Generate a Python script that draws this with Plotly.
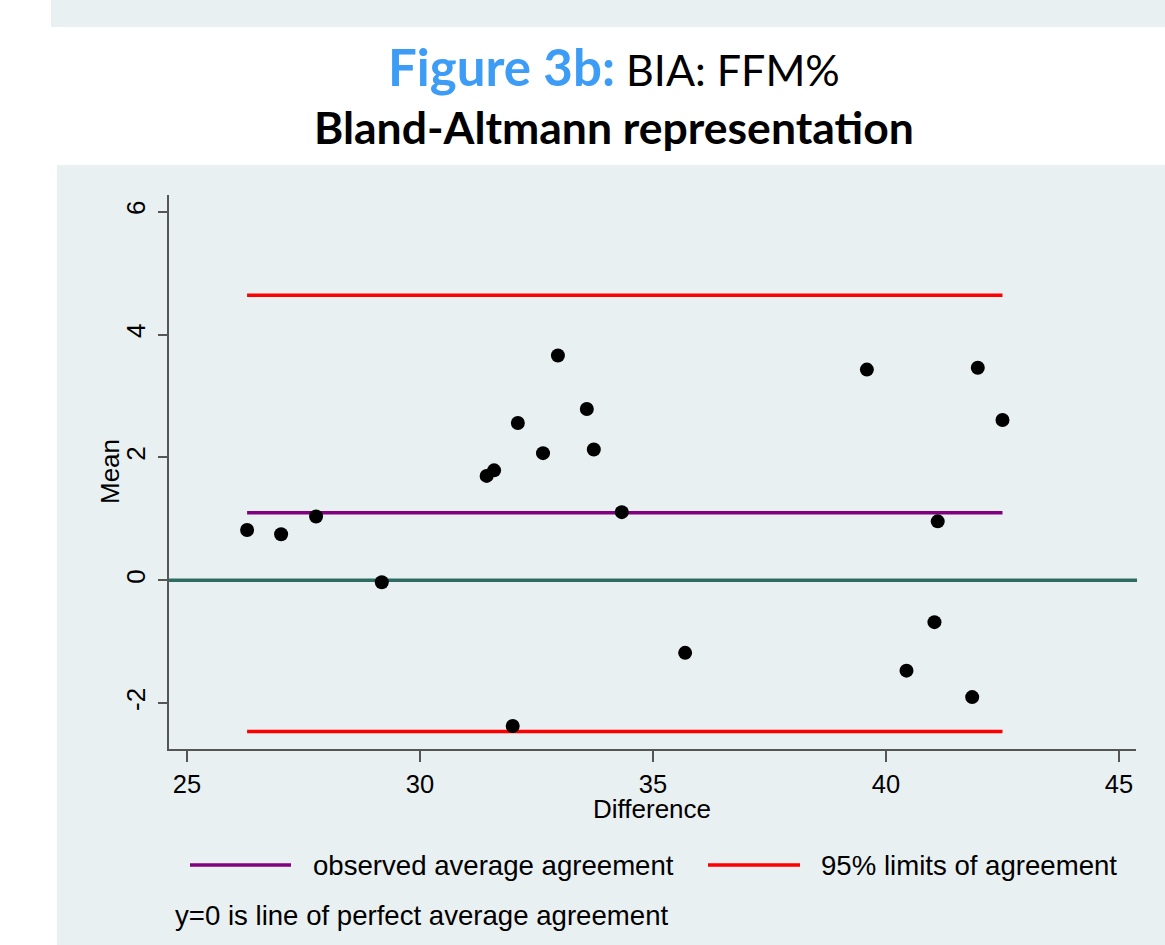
import plotly.graph_objects as go

# ---------------- data ----------------
diff_x = [26.29, 27.02, 27.77, 29.18, 31.43, 31.59, 32.10, 32.64, 32.96, 33.58,
          33.73, 34.33, 35.69, 31.99, 39.59, 41.97, 42.50, 41.11, 41.04, 40.44, 41.85]
mean_y = [0.82, 0.75, 1.04, -0.03, 1.70, 1.79, 2.56, 2.07, 3.66, 2.79,
          2.13, 1.11, -1.18, -2.37, 3.43, 3.46, 2.61, 0.96, -0.68, -1.47, -1.90]
avg_agreement = 1.10
upper_loa = 4.64
lower_loa = -2.46
x_ticks = [25, 30, 35, 40, 45]
y_ticks = [-2, 0, 2, 4, 6]
x_range = [24.614, 45.365]
y_range = [-2.745, 6.272]

# ---------------- layout geometry ----------------
W, H = 1165, 945
L, R, T, B = 169, 1136, 195, 749  # plot area in pixels
BG = "#e9f0f2"
AXIS_FONT = "Liberation Sans, Arial, sans-serif"
TITLE_FONT = "Lato, Carlito, Calibri, sans-serif"


def px(x):
    return (x - L) / (R - L)


def py(y):
    return (B - y) / (B - T)


fig = go.Figure()

line_x = [min(diff_x), max(diff_x)]
fig.add_trace(go.Scatter(x=line_x, y=[upper_loa, upper_loa], mode="lines",
                         line=dict(color="#ff0000", width=3.5), showlegend=False,
                         hoverinfo="skip"))
fig.add_trace(go.Scatter(x=line_x, y=[lower_loa, lower_loa], mode="lines",
                         line=dict(color="#ff0000", width=3.5), showlegend=False,
                         hoverinfo="skip"))
fig.add_trace(go.Scatter(x=line_x, y=[avg_agreement, avg_agreement], mode="lines",
                         line=dict(color="#800080", width=3.5), showlegend=False,
                         hoverinfo="skip"))
fig.add_trace(go.Scatter(x=diff_x, y=mean_y, mode="markers",
                         marker=dict(color="#000000", size=14, line=dict(width=0)),
                         showlegend=False))

shapes = [
    # background bands
    dict(type="rect", xref="paper", yref="paper", x0=px(51), x1=px(1170),
         y0=py(27), y1=py(-5), fillcolor=BG, line=dict(width=0), layer="below"),
    dict(type="rect", xref="paper", yref="paper", x0=px(57), x1=px(1170),
         y0=py(950), y1=py(165), fillcolor=BG, line=dict(width=0), layer="below"),
    # y = 0 line of perfect agreement
    dict(type="line", xref="paper", yref="y", x0=0, x1=px(1137), y0=0, y1=0,
         line=dict(color="#2e6b62", width=3.5), layer="below"),
    # legend keys
    dict(type="line", xref="paper", yref="paper", x0=px(190), x1=px(291),
         y0=py(865), y1=py(865), line=dict(color="#800080", width=3.5)),
    dict(type="line", xref="paper", yref="paper", x0=px(708), x1=px(800),
         y0=py(865), y1=py(865), line=dict(color="#ff0000", width=3.5)),
]

annotations = [
    dict(xref="paper", yref="paper", x=px(614), y=py(66), xanchor="center",
         yanchor="middle", showarrow=False,
         text="<b><span style='color:#3d9df6'>Figure 3b:</span></b>"
              "<span style='font-size:43px'> BIA: FFM%</span>",
         font=dict(family=TITLE_FONT, size=51, color="#000000")),
    dict(xref="paper", yref="paper", x=px(614), y=py(126), xanchor="center",
         yanchor="middle", showarrow=False,
         text="<b>Bland-Altmann representation</b>",
         font=dict(family=TITLE_FONT, size=44.5, color="#000000")),
    # axis titles
    dict(xref="paper", yref="paper", x=px(652), y=py(809), xanchor="center",
         yanchor="middle", showarrow=False, text="Difference",
         font=dict(family=AXIS_FONT, size=26, color="#000000")),
    dict(xref="paper", yref="paper", x=px(110), y=py(472), xanchor="center",
         yanchor="middle", showarrow=False, text="Mean", textangle=-90,
         font=dict(family=AXIS_FONT, size=26, color="#000000")),
    # legend texts
    dict(xref="paper", yref="paper", x=px(311), y=py(866), xanchor="left",
         yanchor="middle", showarrow=False, text="observed average agreement",
         font=dict(family=AXIS_FONT, size=27.6, color="#000000")),
    dict(xref="paper", yref="paper", x=px(819), y=py(866), xanchor="left",
         yanchor="middle", showarrow=False, text="95% limits of agreement",
         font=dict(family=AXIS_FONT, size=27.6, color="#000000")),
    dict(xref="paper", yref="paper", x=px(173), y=py(915), xanchor="left",
         yanchor="middle", showarrow=False,
         text="y=0 is line of perfect average agreement",
         font=dict(family=AXIS_FONT, size=27.6, color="#000000")),
]

fig.update_layout(
    template="none",
    width=W, height=H,
    margin=dict(l=L, r=W - R, t=T, b=H - B, pad=0),
    paper_bgcolor="#ffffff",
    plot_bgcolor=BG,
    shapes=shapes,
    annotations=annotations,
    showlegend=False,
    xaxis=dict(range=x_range, tickvals=x_ticks, ticktext=[str(v) for v in x_ticks],
               showgrid=False, zeroline=False, showline=True, linecolor="#555555",
               linewidth=1.8, ticks="outside", ticklen=11, tickwidth=1.5,
               tickcolor="#555555", automargin=False,
               tickfont=dict(family=AXIS_FONT, size=25.5, color="#000000")),
    yaxis=dict(range=y_range, tickvals=y_ticks, ticktext=[str(v) for v in y_ticks],
               showgrid=False, zeroline=False, showline=True, linecolor="#555555",
               linewidth=1.8, ticks="outside", ticklen=9, tickwidth=1.5,
               tickcolor="#555555", automargin=False, tickangle=-90,
               ticklabelstandoff=3,
               tickfont=dict(family=AXIS_FONT, size=26, color="#000000")),
)

fig.write_html("out.html",
               config={"displayModeBar": False},
               post_script="document.body.style.margin='0';"
                           "document.body.style.overflow='hidden';")
